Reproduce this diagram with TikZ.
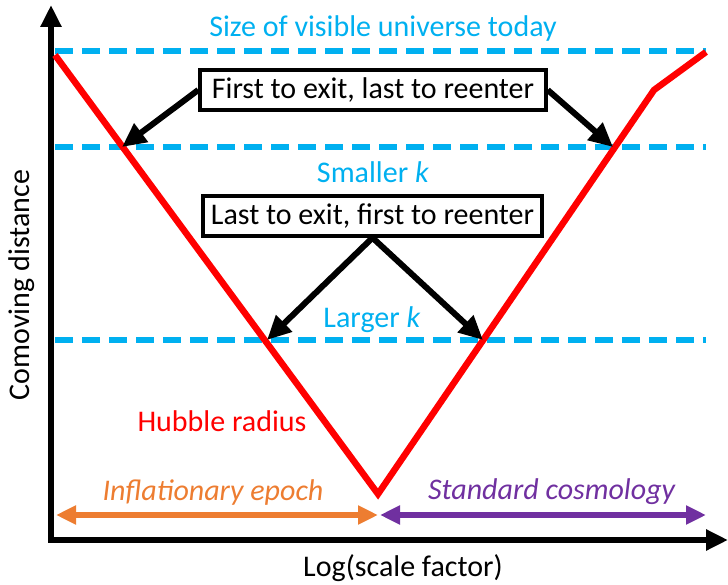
\documentclass[tikz,border=0pt]{standalone}
\usepackage{fontspec}
\setmainfont{Carlito}
\usetikzlibrary{arrows.meta}
\begin{document}
\begin{tikzpicture}[x=1pt,y=-1pt,
  lbl/.style={font=\fontsize{30}{34}\selectfont},
  kline/.style={color0,line width=5.5pt,dash pattern=on 18pt off 9pt},
  axis/.style={black,line width=6pt,-{Triangle[length=22pt,width=20pt]}},
  callout/.style={black,line width=6pt,-{Triangle[length=24pt,width=22pt]}},
  notebox/.style={lbl,draw=black,line width=3.5pt,fill=white,minimum height=40pt,inner xsep=6pt,inner ysep=1pt},
  epoch/.style={line width=5.5pt,{Triangle[length=20pt,width=18pt]}-{Triangle[length=20pt,width=18pt]}}]
\definecolor{color0}{HTML}{00B0F0}
\definecolor{color1}{HTML}{FF0000}
\definecolor{color2}{HTML}{ED7D31}
\definecolor{color3}{HTML}{7030A0}
\useasboundingbox (0,0) rectangle (728,585);
% axes
\coordinate (origin) at (51,540);
\coordinate (ytip) at (51,5);
\coordinate (xtip) at (728,540);
\draw[axis] ([yshift=3pt]origin) -- (ytip);
\draw[axis] ([xshift=-3pt]origin) -- (xtip);
\node[lbl,rotate=90] (ylabel) at (22,285) {Comoving distance};
\node[lbl] (xlabel) at (403,568) {Log(scale factor)};
% horizon lines
\coordinate (today0) at (55,51);
\coordinate (today1) at (706,51);
\coordinate (small0) at (55,147);
\coordinate (small1) at (706,147);
\coordinate (large0) at (55,340);
\coordinate (large1) at (706,340);
\draw[kline] (today0) -- (today1);
\draw[kline] (small0) -- (small1);
\draw[kline] (large0) -- (large1);
\node[lbl,color0] (today) at (383,29) {Size of visible universe today};
\node[lbl,color0] (smaller) at (373,172) {Smaller \textit{k}};
\node[lbl,color0] (larger) at (372,320) {Larger \textit{k}};
% hubble radius
\coordinate (h0) at (55,55);
\coordinate (hmin) at (378,494);
\coordinate (hkink) at (654,90);
\coordinate (h1) at (706,52);
\draw[color1,line width=6.5pt,line join=miter] (h0) -- (hmin) -- (hkink) -- (h1);
\node[lbl,color1] (hubble) at (222,421) {Hubble radius};
% crossings
\coordinate (cross1) at (122,147);
\coordinate (cross2) at (613,147);
\coordinate (cross3) at (267,340);
\coordinate (cross4) at (483,340);
\node[notebox,minimum width=346pt] (first) at (373,90) {First to exit, last to reenter};
\node[notebox,minimum width=339pt] (last) at (372.5,216) {Last to exit, first to reenter};
\draw[callout] (first.west) -- (cross1);
\draw[callout] (first.east) -- (cross2);
\draw[callout] (last.south) -- (cross3);
\draw[callout] (last.south) -- (cross4);
% epochs
\coordinate (e0) at (56,515);
\coordinate (emid) at (379,515);
\coordinate (e1) at (706,515);
\draw[epoch,color2] (e0) -- ([xshift=-1pt]emid);
\draw[epoch,color3] ([xshift=1pt]emid) -- (e1);
\node[lbl,color2] (inflation) at (213,492) {\textit{Inflationary epoch}};
\node[lbl,color3] (standard) at (552,492) {\textit{Standard cosmology}};
\end{tikzpicture}
\end{document}
